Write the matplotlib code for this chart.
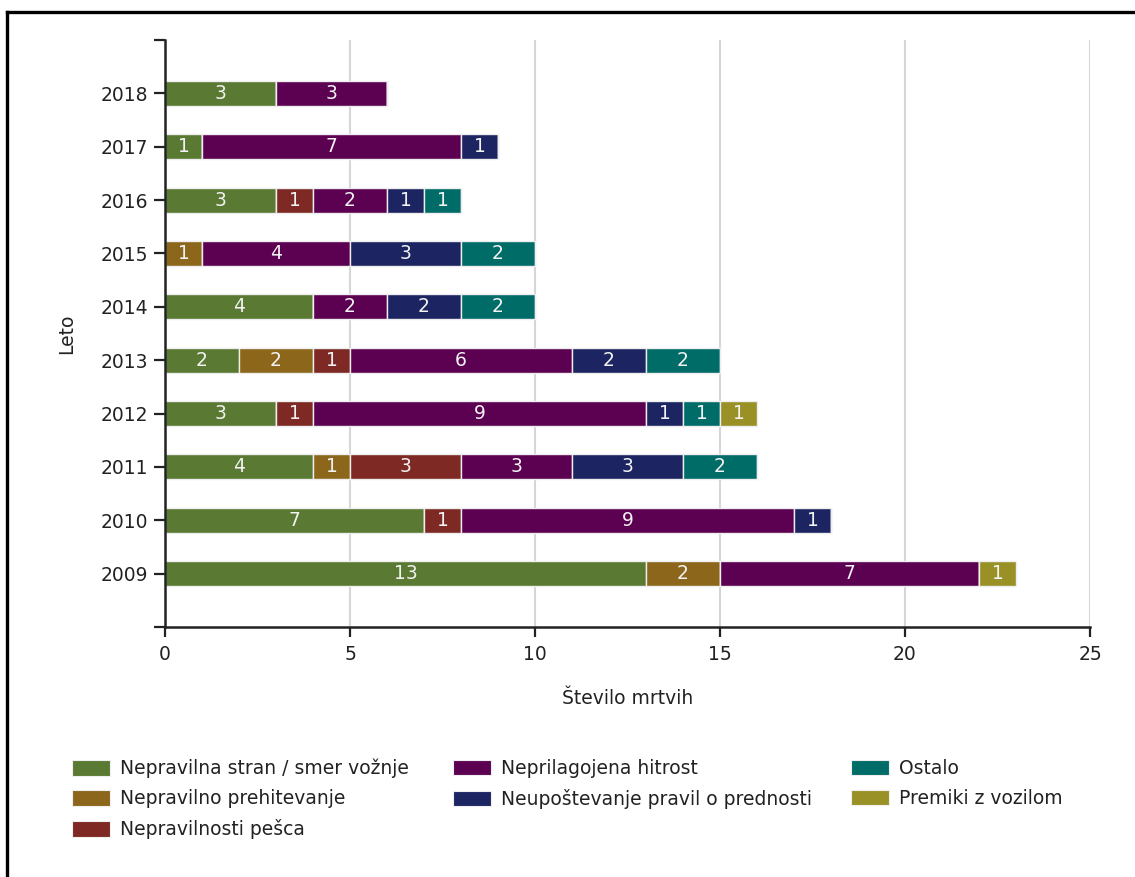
import numpy as np
import matplotlib
matplotlib.use("Agg")
import matplotlib.pyplot as plt
from matplotlib.patches import Patch
from matplotlib.lines import Line2D

years = ["2009", "2010", "2011", "2012", "2013", "2014", "2015", "2016", "2017", "2018"]
series_names = [
    "Nepravilna stran / smer vožnje",
    "Nepravilno prehitevanje",
    "Nepravilnosti pešca",
    "Neprilagojena hitrost",
    "Neupoštevanje pravil o prednosti",
    "Ostalo",
    "Premiki z vozilom",
]
nepravilna_stran = [13, 7, 4, 3, 2, 4, 0, 3, 1, 3]
prehitevanje     = [2, 0, 1, 0, 2, 0, 1, 0, 0, 0]
pesca            = [0, 1, 3, 1, 1, 0, 0, 1, 0, 0]
hitrost          = [7, 9, 3, 9, 6, 2, 4, 2, 7, 3]
prednost         = [0, 1, 3, 1, 2, 2, 3, 1, 1, 0]
ostalo           = [0, 0, 2, 1, 2, 2, 2, 1, 0, 0]
premiki          = [1, 0, 0, 1, 0, 0, 0, 0, 0, 0]
series = [nepravilna_stran, prehitevanje, pesca, hitrost, prednost, ostalo, premiki]
colors = ["#5a7932", "#8c671b", "#7e2923", "#5c0052", "#1c2562", "#006c68", "#9a9126"]

plt.rcParams["font.family"] = ["DejaVu Sans"]
txt = "#222222"
fs = 13.5

fig = plt.figure(figsize=(11.35, 8.77), dpi=100)
ax = fig.add_axes([165/1135, 1-627/877, (1090-165)/1135, (627-40)/877])

y = np.arange(len(years))
left = np.zeros(len(years))
for name, vals, col in zip(series_names, series, colors):
    vals = np.array(vals, dtype=float)
    bars = ax.barh(y, vals, left=left, height=0.47, color=col,
                   edgecolor="#eeeeee", linewidth=1.0, label=name, zorder=3)
    labels = [str(int(v)) if v > 0 else "" for v in vals]
    ax.bar_label(bars, labels=labels, label_type="center", color="#f2f2f2",
                 fontsize=fs, zorder=4)
    left += vals

ax.set_xlim(0, 25)
ax.set_ylim(-1, len(years))
ax.set_xticks([0, 5, 10, 15, 20, 25])
ax.set_yticks(y)
ax.set_yticklabels(years)
ax.set_yticks([-1, len(years)], minor=True)
ax.tick_params(axis="y", which="both", length=8, width=1.6, color="#222222",
               labelsize=fs, labelcolor=txt, pad=4)
ax.tick_params(axis="x", length=7, width=1.6, color="#222222",
               labelsize=fs, labelcolor=txt, pad=6)
for s in ["top", "right"]:
    ax.spines[s].set_visible(False)
for s in ["left", "bottom"]:
    ax.spines[s].set_linewidth(1.8)
    ax.spines[s].set_color("#222222")
    ax.spines[s].set_zorder(5)
ax.xaxis.grid(True, color="#d6d6d6", linewidth=1.5, zorder=0)
ax.set_axisbelow(True)

ax.set_xlabel("Število mrtvih", fontsize=fs, color=txt, labelpad=18)
ax.set_ylabel("Leto", fontsize=fs, color=txt, labelpad=18)

handles = [Patch(facecolor=c, edgecolor="#eeeeee", linewidth=0.8) for c in colors]
groups = [(0, 3, 72), (3, 5, 453), (5, 7, 851)]
for a, b, xpx in groups:
    fig.legend(handles[a:b], series_names[a:b], loc="upper left",
               bbox_to_anchor=(xpx/1135, 1-759/877), frameon=False,
               fontsize=fs, borderpad=0, borderaxespad=0,
               handlelength=2.03, handleheight=0.9, handletextpad=0.55,
               labelspacing=0.58, labelcolor=txt)

fig.add_artist(Line2D([7/1135, 1], [1-12/877, 1-12/877], color="black",
                      linewidth=2.4, transform=fig.transFigure))
fig.add_artist(Line2D([7/1135, 7/1135], [1-12/877, 0], color="black",
                      linewidth=2.4, transform=fig.transFigure))

fig.savefig("out.png", dpi=100, facecolor="white")
